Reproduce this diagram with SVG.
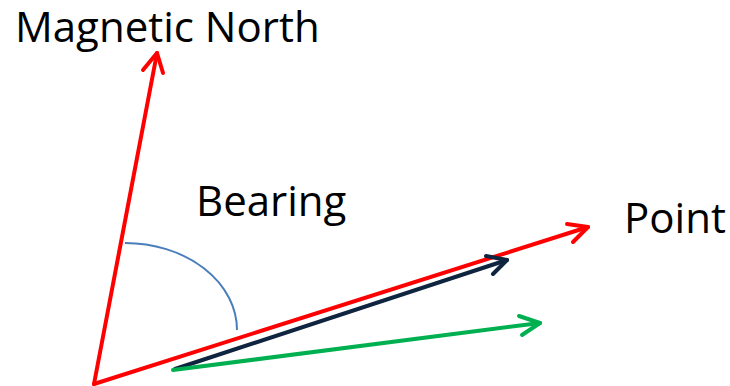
<svg xmlns="http://www.w3.org/2000/svg" width="730" height="386" viewBox="0 0 730 386">
<style>
text{font-family:"Open Sans","Liberation Sans",sans-serif;font-size:42px;fill:#000}
.ln{fill:none;stroke-width:4;stroke-linecap:round;stroke-linejoin:round}
</style>
<rect width="730" height="386" fill="#fff"/>
<g id="labels">
<text x="15" y="42">Magnetic North</text>
<text x="196" y="216">Bearing</text>
<text x="624" y="233" font-size="41">Point</text>
</g>
<g id="connectors">
<path id="bearing-arc" d="M125,243 A112,87 0 0 1 237,330" fill="none" stroke="#4a7ebb" stroke-width="2"/>
<g id="north" class="ln" stroke="#ff0000">
<path d="M94,384 L157,53"/>
<path d="M143,70 L157,53 L163,73"/>
</g>
<g id="point" class="ln" stroke="#ff0000">
<path d="M94,384 L588,227"/>
<path d="M567,224 L588,227 L573,242"/>
</g>
<g id="navy" class="ln" stroke="#0f243e">
<path d="M175,369 L507,260"/>
<path d="M486,256 L507,260 L493,274"/>
</g>
<g id="green" class="ln" stroke="#00b050">
<path d="M173,370 L540,323"/>
<path d="M519,316 L540,323 L522,335"/>
</g>
</g>
</svg>
